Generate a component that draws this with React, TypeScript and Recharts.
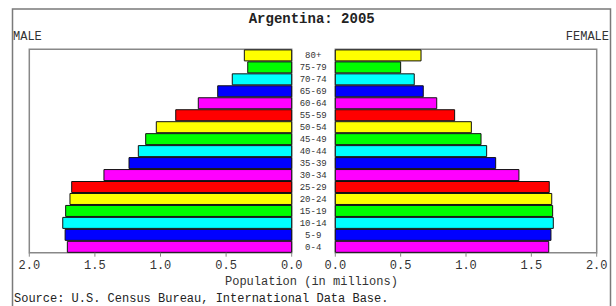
import React from 'react';
import { BarChart, Bar, XAxis, YAxis, Cell, ReferenceArea } from 'recharts';

const ageGroups = ['0-4', '5-9', '10-14', '15-19', '20-24', '25-29', '30-34', '35-39', '40-44', '45-49', '50-54', '55-59', '60-64', '65-69', '70-74', '75-79', '80+'];
const maleValues = [1.71, 1.727, 1.745, 1.723, 1.69, 1.677, 1.431, 1.24, 1.169, 1.113, 1.032, 0.884, 0.712, 0.564, 0.453, 0.335, 0.361];
const femaleValues = [1.633, 1.65, 1.668, 1.663, 1.656, 1.637, 1.405, 1.227, 1.158, 1.115, 1.041, 0.913, 0.776, 0.673, 0.604, 0.5, 0.656];
const barColors = ['#ff00ff', '#0000ff', '#00ffff', '#00ff00', '#ffff00', '#ff0000'];
const xTicks = [0, 0.5, 1, 1.5, 2];
const titleText = 'Argentina: 2005';
const leftLabel = 'MALE';
const rightLabel = 'FEMALE';
const xAxisLabel = 'Population (in millions)';
const sourceText = 'Source: U.S. Census Bureau, International Data Base.';

const maleData = ageGroups.map((age, i) => ({ age, value: maleValues[i] }));
const femaleData = ageGroups.map((age, i) => ({ age, value: femaleValues[i] }));

const FONT = '"Liberation Mono", "DejaVu Sans Mono", monospace';
const tickStyle = { fontFamily: FONT, fontSize: 12, fill: '#333' };

const AgeTick = (props: any) => {
  const { x, y, payload } = props;
  return (
    <text x={x + 21.5} y={y} dy={3.2} textAnchor="middle" fontFamily={FONT} fontSize={9} fill="#333">
      {payload.value}
    </text>
  );
};

const fmt = (v: number) => v.toFixed(1);

export default function App() {
  return (
    <div style={{ position: 'absolute', left: 0, top: 0, width: 616, height: 306, background: '#fff', overflow: 'hidden' }}>
      <svg width={616} height={306} style={{ position: 'absolute', left: 0, top: 0 }}>
        <rect x={12.5} y={9} width={598} height={320} fill="none" stroke="#7a7a7a" strokeWidth={1.5} />
        <text x={311.7} y={22.8} textAnchor="middle" fontFamily={FONT} fontWeight="bold" fontSize={14} fill="#222">{titleText}</text>
        <text x={13} y={39.5} textAnchor="start" fontFamily={FONT} fontSize={12} fill="#333">{leftLabel}</text>
        <text x={609} y={39.5} textAnchor="end" fontFamily={FONT} fontSize={12} fill="#333">{rightLabel}</text>
        <text x={225} y={285} textAnchor="start" fontFamily={FONT} fontSize={12} fill="#333">{xAxisLabel}</text>
        <text x={14} y={302} textAnchor="start" fontFamily={FONT} fontSize={12} fill="#222">{sourceText}</text>
      </svg>
      <div style={{ position: 'absolute', left: 0, top: 0 }}>
        <BarChart width={340} height={306} data={maleData} layout="vertical" barCategoryGap={0.6}
          margin={{ top: 49.3, right: 4.3, bottom: 23.3, left: 29.3 }}>
          <XAxis type="number" domain={[0, 2]} reversed ticks={xTicks} tickFormatter={fmt} height={30}
            axisLine={false} tickLine={{ stroke: '#888' }} tickSize={4} tickMargin={3.5} tick={tickStyle} interval={0} />
          <YAxis type="category" dataKey="age" reversed orientation="right" width={44}
            axisLine={false} tickLine={false} tickSize={0} tickMargin={0} tick={<AgeTick />} interval={0} />
          <ReferenceArea x1={0} x2={2} fill="none" fillOpacity={0} stroke="#888" strokeWidth={1.5} />
          <Bar dataKey="value" isAnimationActive={false} stroke="#111" strokeWidth={1}>
            {maleData.map((d, i) => (
              <Cell key={d.age} fill={barColors[i % barColors.length]} />
            ))}
          </Bar>
        </BarChart>
      </div>
      <div style={{ position: 'absolute', left: 300, top: 0 }}>
        <BarChart width={316} height={306} data={femaleData} layout="vertical" barCategoryGap={0.6}
          margin={{ top: 49.3, right: 19.3, bottom: 23.3, left: 35.3 }}>
          <XAxis type="number" domain={[0, 2]} ticks={xTicks} tickFormatter={fmt} height={30}
            axisLine={false} tickLine={{ stroke: '#888' }} tickSize={4} tickMargin={3.5} tick={tickStyle} interval={0} />
          <YAxis type="category" dataKey="age" reversed hide width={0} />
          <ReferenceArea x1={0} x2={2} fill="none" fillOpacity={0} stroke="#888" strokeWidth={1.5} />
          <Bar dataKey="value" isAnimationActive={false} stroke="#111" strokeWidth={1}>
            {femaleData.map((d, i) => (
              <Cell key={d.age} fill={barColors[i % barColors.length]} />
            ))}
          </Bar>
        </BarChart>
      </div>
    </div>
  );
}
